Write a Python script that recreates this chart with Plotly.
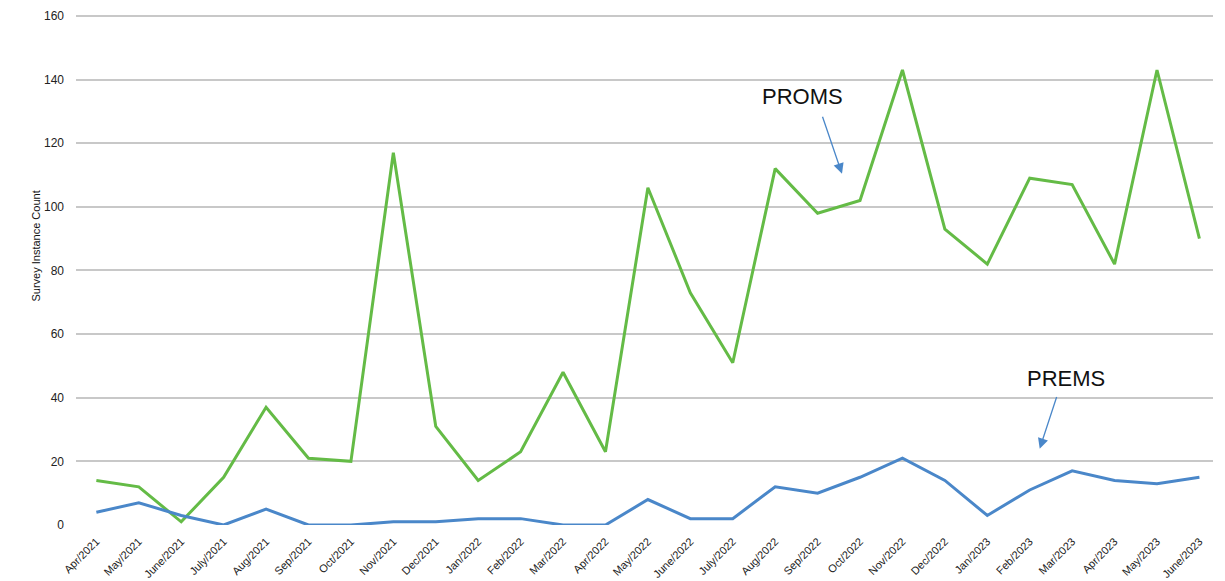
import plotly.graph_objects as go

# Monthly survey instance counts
months = [
    "Apr/2021", "May/2021", "June/2021", "July/2021", "Aug/2021", "Sep/2021",
    "Oct/2021", "Nov/2021", "Dec/2021", "Jan/2022", "Feb/2022", "Mar/2022",
    "Apr/2022", "May/2022", "June/2022", "July/2022", "Aug/2022", "Sep/2022",
    "Oct/2022", "Nov/2022", "Dec/2022", "Jan/2023", "Feb/2023", "Mar/2023",
    "Apr/2023", "May/2023", "June/2023",
]
proms = [14, 12, 1, 15, 37, 21, 20, 117, 31, 14, 23, 48, 23, 106, 73, 51,
         112, 98, 102, 143, 93, 82, 109, 107, 82, 143, 90]
prems = [4, 7, 3, 0, 5, 0, 0, 1, 1, 2, 2, 0, 0, 8, 2, 2,
         12, 10, 15, 21, 14, 3, 11, 17, 14, 13, 15]
y_ticks = [0, 20, 40, 60, 80, 100, 120, 140, 160]

FONT = "Liberation Sans, Arial, sans-serif"
GREEN = "#64bb46"
BLUE = "#4a87c9"

fig = go.Figure()
fig.add_trace(go.Scatter(x=months, y=proms, mode="lines", name="PROMS",
                         line=dict(color=GREEN, width=3)))
fig.add_trace(go.Scatter(x=months, y=prems, mode="lines", name="PREMS",
                         line=dict(color=BLUE, width=3)))

# Series labels with pointer arrows
labels = [
    dict(text="PROMS", x=16.64, y=134.8, tip=(17.575, 110.4), tail=(17.104, 128.8)),
    dict(text="PREMS", x=22.866, y=46.1, tip=(22.236, 24.0), tail=(22.646, 40.7)),
]
annotations = []
for lab in labels:
    annotations.append(dict(
        text=lab["text"], x=lab["x"], y=lab["y"], xref="x", yref="y",
        showarrow=False, font=dict(family=FONT, size=22, color="#111111"),
    ))
    annotations.append(dict(
        text="", x=lab["tip"][0], y=lab["tip"][1], xref="x", yref="y",
        ax=lab["tail"][0], ay=lab["tail"][1], axref="x", ayref="y",
        showarrow=True, arrowhead=2, arrowsize=1.6, arrowwidth=1.3,
        arrowcolor=BLUE, standoff=0, startstandoff=0,
    ))

annotations.append(dict(
    text="Survey Instance Count", textangle=-90, x=-0.036, y=0.545,
    xref="paper", yref="paper", xanchor="center", yanchor="middle",
    showarrow=False, font=dict(family=FONT, size=11, color="#111111"),
))

fig.update_layout(
    width=1225, height=581,
    margin=dict(l=76, r=12, t=14, b=56, autoexpand=False),
    paper_bgcolor="white", plot_bgcolor="white",
    showlegend=False,
    font=dict(family=FONT, color="#222222"),
    annotations=annotations,
)
fig.update_xaxes(
    type="category", range=[-0.48, 26.32], tickmode="linear", dtick=1, tick0=0,
    tickangle=-45, tickfont=dict(family=FONT, size=11, color="#222222"),
    showgrid=False, zeroline=False, showline=False, ticks="",
    automargin=False, ticklabelstandoff=7,
)
# headroom above 160 keeps the top gridline inside the plot area
fig.update_yaxes(
    range=[0, 160.6], tickmode="array", tickvals=y_ticks,
    tickfont=dict(family=FONT, size=12, color="#222222"),
    showgrid=True, gridcolor="#c8c8c8", gridwidth=1.5,
    zeroline=False, showline=False, ticks="",
    automargin=False, ticklabelstandoff=11,
)

fig.write_html("out.html")
